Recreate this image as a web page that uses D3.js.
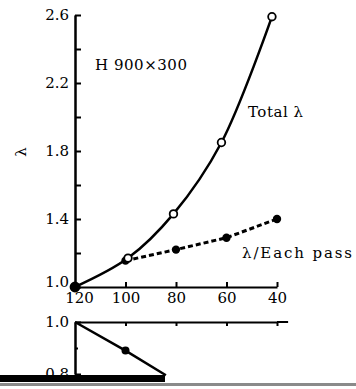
<!DOCTYPE html>
<html>
<head>
<meta charset="utf-8">
<script src="https://cdn.jsdelivr.net/npm/d3@7"></script>
<style>
  body { margin: 0; background: white; }
  text { font-family: "DejaVu Serif", "Liberation Serif", serif; fill: black; }
</style>
</head>
<body>
<script>
// data
var totalX = [120, 99, 81, 62, 42];          // x values, Total lambda
var totalY = [1.0, 1.17, 1.43, 1.85, 2.59];
var passX = [100, 80, 60, 40];               // lambda / each pass
var passY = [1.155, 1.22, 1.29, 1.40];
var lowX = [120, 100, 84];                   // lower small panel
var lowY = [1.0, 0.89, 0.795];
var xTicks = [120, 100, 80, 60, 40];
var yTicks = [1.0, 1.4, 1.8, 2.2, 2.6];
var yMinor = [1.2, 1.6, 2.0, 2.4];
var lowTicks = [1.0, 0.8];

var svg = d3.select("body").append("svg")  // canvas
    .attr("width", 356)
    .attr("height", 389);

// scales
var x = d3.scaleLinear().domain([120, 40]).range([75, 277]);
var y = d3.scaleLinear().domain([1.0, 2.6]).range([287, 15]);
var yLow = d3.scaleLinear().domain([0.8, 1.0]).range([374, 322]);

// upper panel axes
var gy = svg.append("g")
    .attr("transform", "translate(75,0)")
    .call(d3.axisLeft(y).tickValues(yTicks).tickFormat(d3.format(".1f"))
        .tickSizeInner(-6).tickSizeOuter(0).tickPadding(6));

svg.append("g")
    .attr("transform", "translate(75,0)")
    .call(d3.axisLeft(y).tickValues(yMinor).tickFormat("")
        .tickSizeInner(-6).tickSizeOuter(0));

var gx = svg.append("g")
    .attr("transform", "translate(0,287)")
    .call(d3.axisBottom(x).tickValues(xTicks).tickFormat(d3.format("d"))
        .tickSizeInner(-5).tickSizeOuter(0).tickPadding(5));

// lower panel axes
svg.append("g")
    .attr("transform", "translate(0,322)")
    .call(d3.axisTop(x).tickValues(xTicks.slice(1)).tickFormat("")
        .tickSizeInner(-4).tickSizeOuter(0));

svg.append("line")  // top line of lower panel runs a bit past 40
    .attr("x1", x(40))
    .attr("x2", x(35.6))
    .attr("y1", 322)
    .attr("y2", 322)
    .style("stroke", "black")
    .style("stroke-width", 2);

svg.append("g")
    .attr("transform", "translate(75,0)")
    .call(d3.axisLeft(yLow).tickValues(lowTicks).tickFormat(d3.format(".1f"))
        .tickSizeInner(-6).tickSizeOuter(0).tickPadding(6));

svg.append("g")
    .attr("transform", "translate(75,0)")
    .call(d3.axisLeft(yLow).tickValues([0.9]).tickFormat("")
        .tickSizeInner(-3).tickSizeOuter(0));

svg.selectAll(".domain, .tick line")
    .style("stroke", "black")
    .style("stroke-width", 2);

svg.selectAll(".tick text")
    .style("font-family", "'DejaVu Serif', serif")
    .style("font-size", "15px");

// corner labels sit a little apart, as in the original
gy.selectAll(".tick text")
    .filter(function(d) { return d === 1.0; })
    .attr("dy", "-0.05em");

gx.selectAll(".tick text")
    .filter(function(d) { return d === 120; })
    .attr("x", 4);

// axis title
svg.append("text")
    .attr("transform", "translate(22,152) rotate(-90)")
    .attr("text-anchor", "middle")
    .attr("dominant-baseline", "middle")
    .style("font-size", "15px")
    .text("λ");

// lines
var passLine = d3.line()
    .x(function(d, i) { return x(passX[i]); })
    .y(function(d, i) { return y(passY[i]); });

svg.append("path")
    .attr("d", passLine(passX))
    .style("fill", "none")
    .style("stroke", "black")
    .style("stroke-width", 3)
    .style("stroke-dasharray", "5,3");

var totalLine = d3.line()
    .x(function(d, i) { return x(totalX[i]); })
    .y(function(d, i) { return y(totalY[i]); })
    .curve(d3.curveCatmullRom.alpha(0.5));

svg.append("path")
    .attr("d", totalLine(totalX))
    .style("fill", "none")
    .style("stroke", "black")
    .style("stroke-width", 2.5);

var lowLine = d3.line()
    .x(function(d, i) { return x(lowX[i]); })
    .y(function(d, i) { return yLow(lowY[i]); });

svg.append("path")
    .attr("d", lowLine(lowX))
    .style("fill", "none")
    .style("stroke", "black")
    .style("stroke-width", 2.5);

// points
svg.selectAll(".pass")
    .data(passX)
    .enter().append("circle")
    .attr("cx", function(d) { return x(d); })
    .attr("cy", function(d, i) { return y(passY[i]); })
    .attr("r", 4.2)
    .style("fill", "black");

svg.selectAll(".low")
    .data(lowX.slice(1, 2))
    .enter().append("circle")
    .attr("cx", function(d) { return x(d); })
    .attr("cy", function(d) { return yLow(lowY[lowX.indexOf(d)]); })
    .attr("r", 4)
    .style("fill", "black");

svg.selectAll(".total")
    .data(totalX)
    .enter().append("circle")
    .attr("cx", function(d) { return x(d); })
    .attr("cy", function(d, i) { return y(totalY[i]); })
    .attr("r", function(d, i) { return i === 0 ? 4.5 : 3.8; })
    .style("fill", function(d, i) { return i === 0 ? "black" : "white"; })
    .style("stroke", "black")
    .style("stroke-width", 1.8);

// labels
svg.append("text")
    .attr("x", 95)
    .attr("y", 70)
    .attr("textLength", 92)
    .attr("lengthAdjust", "spacing")
    .style("font-size", "15px")
    .text("H 900×300");

svg.append("text")
    .attr("x", 248)
    .attr("y", 117)
    .attr("textLength", 55)
    .attr("lengthAdjust", "spacing")
    .style("font-size", "15px")
    .text("Total λ");

svg.append("text")
    .attr("x", 242)
    .attr("y", 258)
    .attr("textLength", 110)
    .attr("lengthAdjust", "spacing")
    .style("font-size", "15px")
    .text("λ/Each pass");

// scan edge at the bottom of the page
svg.append("rect")
    .attr("x", 0)
    .attr("y", 375)
    .attr("width", 165)
    .attr("height", 7)
    .style("fill", "black");

svg.append("rect")
    .attr("x", 0)
    .attr("y", 383)
    .attr("width", 356)
    .attr("height", 3)
    .style("fill", "#8a8a8a");
</script>
</body>
</html>
